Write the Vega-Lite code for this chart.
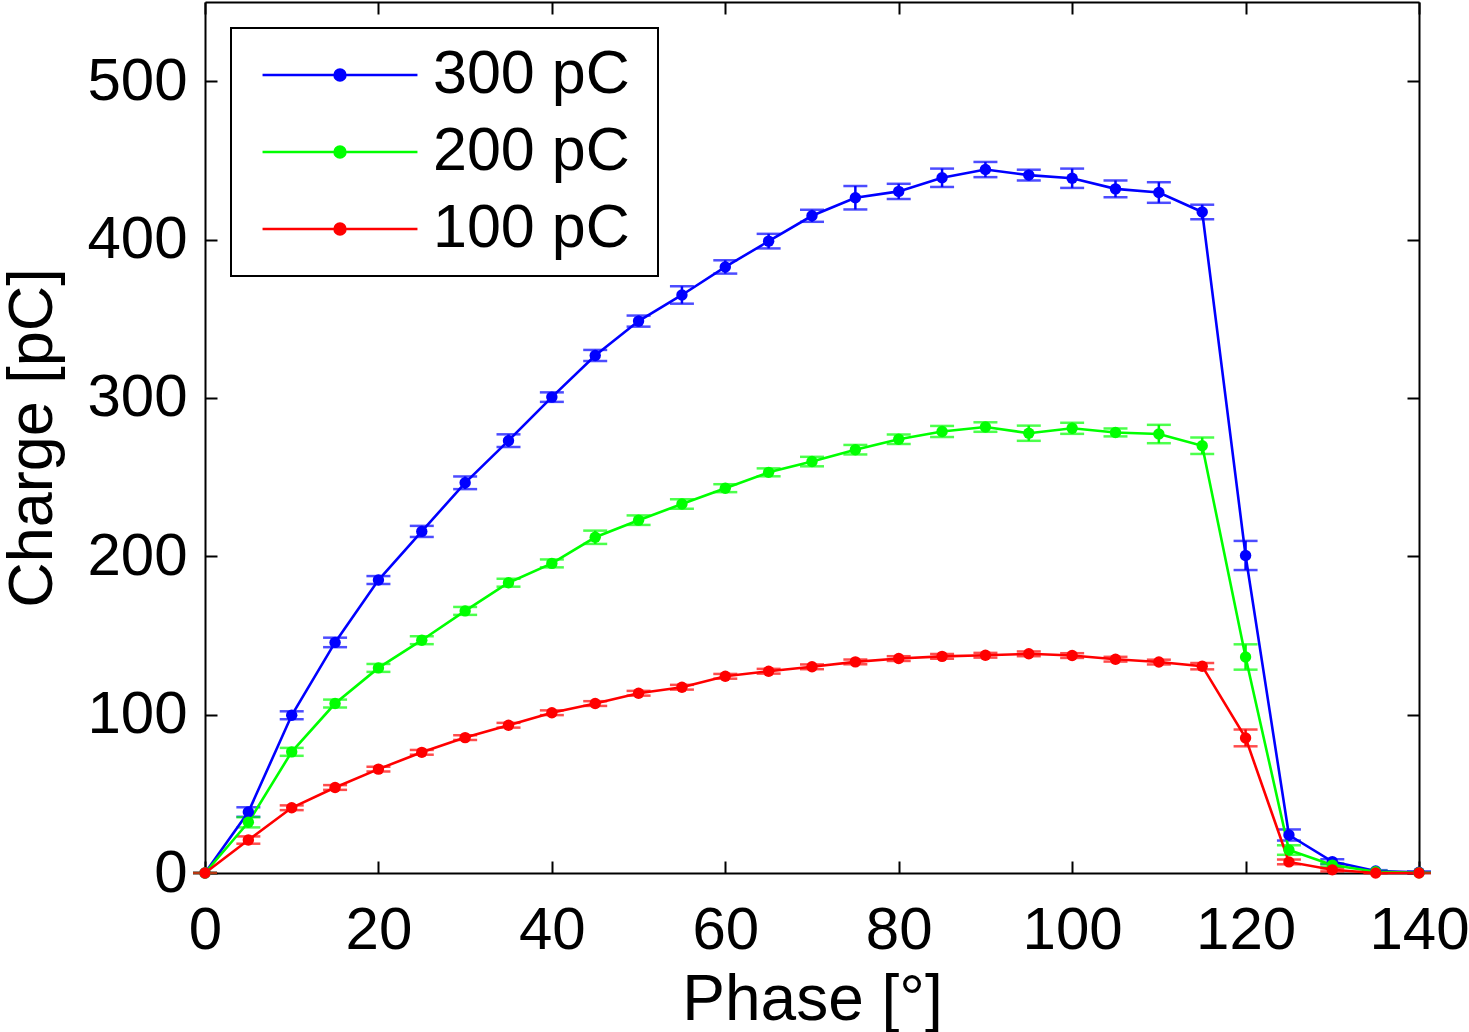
{
  "$schema": "https://vega.github.io/schema/vega-lite/v6.json",
  "width": 1214,
  "height": 871,
  "autosize": "none",
  "padding": {"left": 205, "top": 2, "right": 50, "bottom": 159},
  "config": {
    "view": {"stroke": null},
    "font": "Liberation Sans",
    "background": "white",
    "legend": {"strokeWidth": 2}
  },
  "data": {
    "values": [
      {"s": "300 pC", "phase": 0, "charge": 0, "err": 0},
      {"s": "300 pC", "phase": 5, "charge": 38.5, "err": 3},
      {"s": "300 pC", "phase": 10, "charge": 99.6, "err": 2.5},
      {"s": "300 pC", "phase": 15, "charge": 145.6, "err": 3},
      {"s": "300 pC", "phase": 20, "charge": 185, "err": 2.5},
      {"s": "300 pC", "phase": 25, "charge": 215.7, "err": 3.5},
      {"s": "300 pC", "phase": 30, "charge": 246.4, "err": 4},
      {"s": "300 pC", "phase": 35, "charge": 273, "err": 4},
      {"s": "300 pC", "phase": 40, "charge": 300.5, "err": 3},
      {"s": "300 pC", "phase": 45, "charge": 326.8, "err": 3.5},
      {"s": "300 pC", "phase": 50, "charge": 348.5, "err": 3.5},
      {"s": "300 pC", "phase": 55, "charge": 365, "err": 5.5},
      {"s": "300 pC", "phase": 60, "charge": 382.7, "err": 4.2},
      {"s": "300 pC", "phase": 65, "charge": 399, "err": 4.6},
      {"s": "300 pC", "phase": 70, "charge": 415, "err": 3.8},
      {"s": "300 pC", "phase": 75, "charge": 426.4, "err": 7.4},
      {"s": "300 pC", "phase": 80, "charge": 430.4, "err": 4.8},
      {"s": "300 pC", "phase": 85, "charge": 439, "err": 5.8},
      {"s": "300 pC", "phase": 90, "charge": 444.2, "err": 4.8},
      {"s": "300 pC", "phase": 95, "charge": 440.7, "err": 3.4},
      {"s": "300 pC", "phase": 100, "charge": 438.7, "err": 6.1},
      {"s": "300 pC", "phase": 105, "charge": 432, "err": 5.3},
      {"s": "300 pC", "phase": 110, "charge": 429.7, "err": 6.5},
      {"s": "300 pC", "phase": 115, "charge": 417.4, "err": 4.6},
      {"s": "300 pC", "phase": 120, "charge": 200.5, "err": 9.2},
      {"s": "300 pC", "phase": 125, "charge": 24, "err": 3.5},
      {"s": "300 pC", "phase": 130, "charge": 7.2, "err": 1.5},
      {"s": "300 pC", "phase": 135, "charge": 1.3, "err": 0.5},
      {"s": "300 pC", "phase": 140, "charge": 0.5, "err": 0.5},
      {"s": "200 pC", "phase": 0, "charge": 0, "err": 0},
      {"s": "200 pC", "phase": 5, "charge": 32, "err": 3.2},
      {"s": "200 pC", "phase": 10, "charge": 76.5, "err": 2.5},
      {"s": "200 pC", "phase": 15, "charge": 107, "err": 2.5},
      {"s": "200 pC", "phase": 20, "charge": 129.5, "err": 2.5},
      {"s": "200 pC", "phase": 25, "charge": 147, "err": 2.5},
      {"s": "200 pC", "phase": 30, "charge": 165.5, "err": 2.5},
      {"s": "200 pC", "phase": 35, "charge": 183.3, "err": 2.5},
      {"s": "200 pC", "phase": 40, "charge": 195.5, "err": 2.5},
      {"s": "200 pC", "phase": 45, "charge": 212, "err": 4.2},
      {"s": "200 pC", "phase": 50, "charge": 222.8, "err": 3},
      {"s": "200 pC", "phase": 55, "charge": 233, "err": 3},
      {"s": "200 pC", "phase": 60, "charge": 243, "err": 2.5},
      {"s": "200 pC", "phase": 65, "charge": 253, "err": 2.5},
      {"s": "200 pC", "phase": 70, "charge": 259.8, "err": 3},
      {"s": "200 pC", "phase": 75, "charge": 267.3, "err": 3},
      {"s": "200 pC", "phase": 80, "charge": 273.9, "err": 3},
      {"s": "200 pC", "phase": 85, "charge": 278.8, "err": 3.5},
      {"s": "200 pC", "phase": 90, "charge": 281.6, "err": 3},
      {"s": "200 pC", "phase": 95, "charge": 277.7, "err": 4.8},
      {"s": "200 pC", "phase": 100, "charge": 280.8, "err": 3.5},
      {"s": "200 pC", "phase": 105, "charge": 278.2, "err": 2.5},
      {"s": "200 pC", "phase": 110, "charge": 277.2, "err": 5.8},
      {"s": "200 pC", "phase": 115, "charge": 269.8, "err": 5.2},
      {"s": "200 pC", "phase": 120, "charge": 136.4, "err": 8},
      {"s": "200 pC", "phase": 125, "charge": 14.5, "err": 3},
      {"s": "200 pC", "phase": 130, "charge": 5, "err": 1},
      {"s": "200 pC", "phase": 135, "charge": 0.8, "err": 0.5},
      {"s": "200 pC", "phase": 140, "charge": 0.2, "err": 0},
      {"s": "100 pC", "phase": 0, "charge": 0, "err": 0},
      {"s": "100 pC", "phase": 5, "charge": 20.8, "err": 2.3},
      {"s": "100 pC", "phase": 10, "charge": 41.2, "err": 1.5},
      {"s": "100 pC", "phase": 15, "charge": 54, "err": 1.5},
      {"s": "100 pC", "phase": 20, "charge": 65.6, "err": 1.5},
      {"s": "100 pC", "phase": 25, "charge": 76.2, "err": 1.5},
      {"s": "100 pC", "phase": 30, "charge": 85.5, "err": 1.5},
      {"s": "100 pC", "phase": 35, "charge": 93.3, "err": 1.5},
      {"s": "100 pC", "phase": 40, "charge": 101.2, "err": 1.5},
      {"s": "100 pC", "phase": 45, "charge": 107, "err": 1.5},
      {"s": "100 pC", "phase": 50, "charge": 113.5, "err": 1.5},
      {"s": "100 pC", "phase": 55, "charge": 117.3, "err": 1.5},
      {"s": "100 pC", "phase": 60, "charge": 124.2, "err": 1.5},
      {"s": "100 pC", "phase": 65, "charge": 127.4, "err": 1.5},
      {"s": "100 pC", "phase": 70, "charge": 130.2, "err": 1.5},
      {"s": "100 pC", "phase": 75, "charge": 133.3, "err": 1.5},
      {"s": "100 pC", "phase": 80, "charge": 135.4, "err": 1.5},
      {"s": "100 pC", "phase": 85, "charge": 136.8, "err": 1.5},
      {"s": "100 pC", "phase": 90, "charge": 137.5, "err": 1.5},
      {"s": "100 pC", "phase": 95, "charge": 138.4, "err": 1.5},
      {"s": "100 pC", "phase": 100, "charge": 137.3, "err": 1.5},
      {"s": "100 pC", "phase": 105, "charge": 135, "err": 1.5},
      {"s": "100 pC", "phase": 110, "charge": 133.2, "err": 1.5},
      {"s": "100 pC", "phase": 115, "charge": 130.6, "err": 2},
      {"s": "100 pC", "phase": 120, "charge": 85.3, "err": 5.3},
      {"s": "100 pC", "phase": 125, "charge": 7, "err": 1.5},
      {"s": "100 pC", "phase": 130, "charge": 2, "err": 1},
      {"s": "100 pC", "phase": 135, "charge": 0, "err": 0},
      {"s": "100 pC", "phase": 140, "charge": 0, "err": 0}
    ]
  },
  "layer": [
    {
      "mark": {"type": "errorbar", "ticks": true, "size": 24, "thickness": 2.5},
      "encoding": {
        "x": {"field": "phase", "type": "quantitative", "axis": null,
              "scale": {"domain": [0, 140], "nice": false}},
        "y": {"field": "charge", "type": "quantitative", "axis": null,
              "scale": {"domain": [0, 550], "nice": false}},
        "yError": {"field": "err"},
        "color": {"field": "s", "type": "nominal",
                  "scale": {"domain": ["300 pC", "200 pC", "100 pC"], "range": ["#0000ff", "#00ff00", "#ff0000"]}}
      }
    },
    {
      "mark": {"type": "line", "strokeWidth": 2.6},
      "encoding": {
        "x": {"field": "phase", "type": "quantitative",
              "scale": {"domain": [0, 140], "nice": false},
              "axis": {"orient": "bottom", "values": [0, 20, 40, 60, 80, 100, 120, 140],
                       "title": "Phase [°]", "titleFontSize": 64, "titleFontWeight": "normal", "titleColor": "black",
                       "titlePadding": 8, "labelFontSize": 60, "labelColor": "black", "labelPadding": 40,
                       "labelFlush": false, "labelOverlap": false, "grid": false,
                       "domainColor": "black", "domainWidth": 2, "tickColor": "black", "tickWidth": 2, "tickSize": -12}},
        "y": {"field": "charge", "type": "quantitative",
              "scale": {"domain": [0, 550], "nice": false},
              "axis": {"orient": "left", "values": [0, 100, 200, 300, 400, 500],
                       "title": "Charge [pC]", "titleFontSize": 63, "titleFontWeight": "normal", "titleColor": "black",
                       "titlePadding": 22, "labelFontSize": 60, "labelColor": "black", "labelPadding": 30,
                       "labelFlush": false, "labelOverlap": false, "grid": false,
                       "domainColor": "black", "domainWidth": 2, "tickColor": "black", "tickWidth": 2, "tickSize": -12}},
        "color": {"field": "s", "type": "nominal",
                  "scale": {"domain": ["300 pC", "200 pC", "100 pC"], "range": ["#0000ff", "#00ff00", "#ff0000"]},
                  "legend": {
                    "title": null, "orient": "none", "legendX": 26, "legendY": 26,
                    "padding": 16, "strokeColor": "black", "fillColor": "white",
                    "symbolType": "M-1,0H1M-0.07,0A0.07,0.07,0,1,1,0.07,0A0.07,0.07,0,1,1,-0.07,0Z",
                    "symbolSize": 24000, "symbolStrokeWidth": 2.6, "symbolOffset": 14,
                    "clipHeight": 62, "rowPadding": 15,
                    "labelFontSize": 61, "labelColor": "black", "labelOffset": 14, "labelLimit": 500,
                    "labelExpr": "datum.label + '\u2009\u200b'",
                    "encode": {"symbols": {"update": {
                      "fill": {"scale": "color", "field": "value"},
                      "stroke": {"scale": "color", "field": "value"},
                      "opacity": {"value": 1}
                    }}}
                  }}
      }
    },
    {
      "mark": {"type": "point", "filled": true, "size": 130, "opacity": 1},
      "encoding": {
        "x": {"field": "phase", "type": "quantitative",
              "scale": {"domain": [0, 140], "nice": false},
              "axis": {"orient": "top", "values": [0, 20, 40, 60, 80, 100, 120, 140], "labels": false, "title": null,
                       "grid": false, "domainColor": "black", "domainWidth": 2, "tickColor": "black", "tickWidth": 2, "tickSize": -12}},
        "y": {"field": "charge", "type": "quantitative",
              "scale": {"domain": [0, 550], "nice": false},
              "axis": {"orient": "right", "values": [0, 100, 200, 300, 400, 500], "labels": false, "title": null,
                       "grid": false, "domainColor": "black", "domainWidth": 2, "tickColor": "black", "tickWidth": 2, "tickSize": -12}},
        "color": {"field": "s", "type": "nominal",
                  "scale": {"domain": ["300 pC", "200 pC", "100 pC"], "range": ["#0000ff", "#00ff00", "#ff0000"]}}
      }
    }
  ],
  "resolve": {"axis": {"x": "independent", "y": "independent"}}
}
